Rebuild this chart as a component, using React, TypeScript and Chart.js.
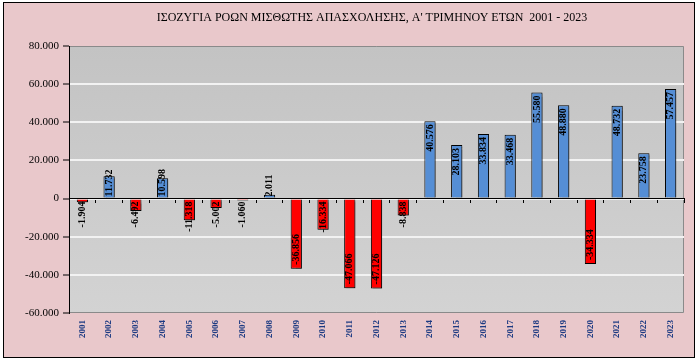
import React, { useEffect, useRef } from 'react';
import { Chart, registerables } from 'chart.js';

Chart.register(...registerables);

const years = ['2001', '2002', '2003', '2004', '2005', '2006', '2007', '2008', '2009', '2010', '2011', '2012', '2013', '2014', '2015', '2016', '2017', '2018', '2019', '2020', '2021', '2022', '2023'];
const balance = [-1904, 11732, -6492, 10598, -11318, -5002, -1060, 2011, -36856, -16334, -47066, -47126, -8838, 40576, 28103, 33834, 33468, 55580, 48880, -34334, 48732, 23758, 57457];
const yMin = -60000;
const yMax = 80000;
const yStep = 20000;
const chartTitle = "ΙΣΟΖΥΓΙΑ ΡΟΩΝ ΜΙΣΘΩΤΗΣ ΑΠΑΣΧΟΛΗΣΗΣ, Α' ΤΡΙΜΗΝΟΥ ΕΤΩΝ  2001 - 2023";

const fmt = (v: number) => {
  const s = Math.abs(Math.round(v)).toString().replace(/\B(?=(\d{3})+(?!\d))/g, '.');
  return (v < 0 ? '-' : '') + s;
};

const SERIF = '"Liberation Serif", "Times New Roman", serif';

export default function App() {
  const ref = useRef<HTMLCanvasElement | null>(null);

  useEffect(() => {
    const canvas = ref.current;
    if (!canvas) return;

    const plotBg = {
      id: 'plotBg',
      beforeDraw(chart: any) {
        const { ctx, chartArea: a } = chart;
        ctx.save();
        const g = ctx.createLinearGradient(0, a.top, 0, a.bottom);
        g.addColorStop(0, '#c3c3c3');
        g.addColorStop(1, '#d3d3d3');
        ctx.fillStyle = g;
        ctx.fillRect(a.left, a.top, a.right - a.left, a.bottom - a.top);
        ctx.strokeStyle = '#8a8a8a';
        ctx.lineWidth = 1;
        ctx.beginPath();
        ctx.moveTo(a.left, a.top + 0.5);
        ctx.lineTo(a.right - 0.5, a.top + 0.5);
        ctx.lineTo(a.right - 0.5, a.bottom - 0.5);
        ctx.lineTo(a.left, a.bottom - 0.5);
        ctx.stroke();
        ctx.restore();
      },
    };

    const barShadow = {
      id: 'barShadow',
      beforeDatasetsDraw(chart: any) {
        const ctx = chart.ctx;
        ctx.save();
        ctx.shadowColor = 'rgba(0,0,0,0.3)';
        ctx.shadowOffsetX = 2;
        ctx.shadowOffsetY = 2;
        ctx.shadowBlur = 1;
      },
      afterDatasetsDraw(chart: any) {
        chart.ctx.restore();
      },
    };

    const labelsAndTitle = {
      id: 'labelsAndTitle',
      afterDraw(chart: any) {
        const ctx = chart.ctx;
        const meta = chart.getDatasetMeta(0);
        ctx.save();
        ctx.font = `bold 10px ${SERIF}`;
        ctx.fillStyle = '#000';
        ctx.textBaseline = 'middle';
        ctx.textAlign = 'right';
        meta.data.forEach((bar: any, i: number) => {
          const v = balance[i];
          const text = fmt(v);
          const w = ctx.measureText(text).width;
          const { x, y, base } = bar.getProps(['x', 'y', 'base'], true);
          const len = Math.abs(base - y);
          let top: number;
          if (v >= 0) {
            top = len >= w + 5 ? y + 3 : base - 1 - w;
          } else {
            top = len >= w + 5 ? y - 4 - w : base + 2;
          }
          ctx.save();
          ctx.translate(x, top);
          ctx.rotate(-Math.PI / 2);
          ctx.fillText(text, 0, 0);
          ctx.restore();
        });
        ctx.font = `12px ${SERIF}`;
        ctx.textAlign = 'center';
        ctx.textBaseline = 'middle';
        ctx.fillText(chartTitle, 372, 18);
        ctx.restore();
      },
    };

    const chart = new Chart(canvas, {
      type: 'bar',
      data: {
        labels: years,
        datasets: [
          {
            data: balance,
            backgroundColor: balance.map((v) => (v >= 0 ? '#558ed5' : '#ff0000')),
            borderColor: '#000',
            borderWidth: 1,
            categoryPercentage: 1,
            barPercentage: 0.42,
            xAxisID: 'x',
          },
        ],
      },
      options: {
        animation: false,
        responsive: false,
        maintainAspectRatio: false,
        layout: { padding: { left: 0, right: 15, top: 46, bottom: 0 } },
        plugins: {
          legend: { display: false },
          title: { display: false },
          tooltip: { enabled: false },
        },
        scales: {
          x: {
            type: 'category',
            position: 'bottom',
            offset: true,
            grid: { display: false, drawTicks: false },
            border: { display: false },
            ticks: {
              minRotation: 90,
              maxRotation: 90,
              autoSkip: false,
              padding: 7,
              color: '#1c3a82',
              font: { family: SERIF, size: 9, weight: 'bold' },
            },
            afterFit: (s: any) => {
              s.height = 48;
            },
          },
          x2: {
            type: 'category',
            labels: years,
            position: { y: 0 } as any,
            offset: true,
            z: 1,
            grid: {
              display: true,
              drawOnChartArea: false,
              drawTicks: true,
              tickLength: 4,
              offset: true,
              color: '#000',
              tickColor: '#000',
            },
            border: { display: true, color: '#000', width: 1 },
            ticks: { display: false },
          },
          y: {
            type: 'linear',
            min: yMin,
            max: yMax,
            ticks: {
              stepSize: yStep,
              padding: 4,
              color: '#000',
              font: { family: SERIF, size: 11 },
              callback: (v: any) => fmt(Number(v)),
            },
            grid: {
              color: (c: any) =>
                c.tick && (c.tick.value === yMax || c.tick.value === yMin) ? 'rgba(0,0,0,0)' : '#f2f2f2',
              lineWidth: 2,
              tickColor: '#000',
              tickWidth: 1,
              tickLength: 6,
            },
            border: { display: true, color: '#000', width: 1 },
            afterFit: (s: any) => {
              s.width = 69;
            },
          },
        },
      } as any,
      plugins: [plotBg, barShadow, labelsAndTitle],
    });

    return () => chart.destroy();
  }, []);

  return (
    <div style={{ position: 'fixed', left: 0, top: 0, width: 699, height: 361, background: '#ffffff', overflow: 'hidden' }}>
      <div
        style={{
          position: 'absolute',
          left: 3,
          top: 2,
          width: 692,
          height: 356,
          boxSizing: 'border-box',
          border: '1px solid #000',
          background: '#e9c8cb',
        }}
      />
      <canvas ref={ref} width={699} height={361} style={{ position: 'absolute', left: 0, top: 0, width: 699, height: 361 }} />
    </div>
  );
}
